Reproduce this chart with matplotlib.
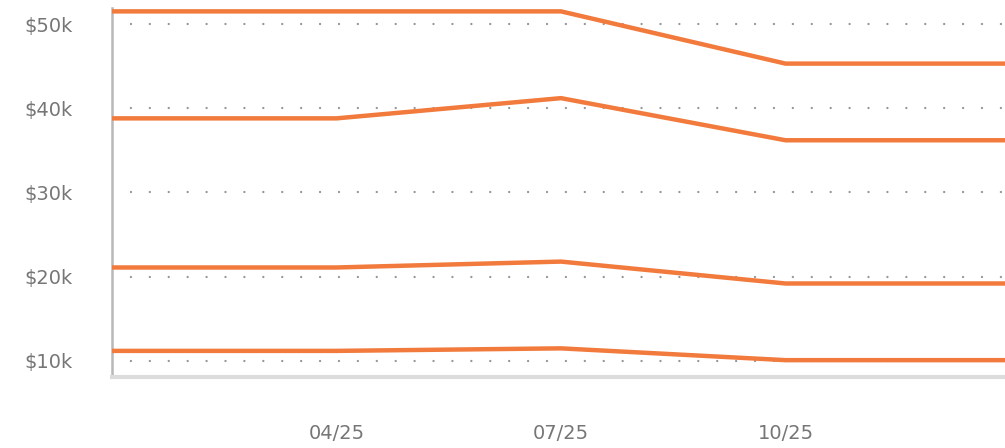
import matplotlib
matplotlib.use("Agg")
import matplotlib.pyplot as plt
from matplotlib.ticker import FuncFormatter

# quarters, 01/25 .. 01/26 (first and last have no label in the chart)
months = ['01/25', '04/25', '07/25', '10/25', '01/26']
shown_labels = ['04/25', '07/25', '10/25']

# values in thousands of dollars
line_a = [51.5, 51.5, 51.5, 45.3, 45.3]
line_b = [38.8, 38.8, 41.2, 36.2, 36.2]
line_c = [21.1, 21.1, 21.8, 19.2, 19.2]
line_d = [11.2, 11.2, 11.5, 10.1, 10.1]
y_ticks = [10, 20, 30, 40, 50]

plt.rcParams['font.family'] = ['DejaVu Sans']

fig = plt.figure(figsize=(10.05, 4.48), dpi=100)
ax = fig.add_axes([112 / 1005, 71 / 448, 1 - 112 / 1005, 369 / 448])

x = list(range(len(months)))
orange = '#F17A3C'
for s in [line_a, line_b, line_c, line_d]:
    ax.plot(x, s, color=orange, lw=3.2, solid_joinstyle='round', zorder=3)

ax.set_xlim(0, (1005 - 112) / 224.5)
ax.set_ylim(8.1, 51.9)

ax.set_yticks(y_ticks)
ax.yaxis.set_major_formatter(FuncFormatter(lambda v, p: '$%dk' % v))
ax.set_xticks([months.index(m) for m in shown_labels])
ax.set_xticklabels(shown_labels)

ax.tick_params(axis='y', length=0, pad=28, labelsize=14, labelcolor='#767676')
ax.tick_params(axis='x', length=0, pad=34, labelsize=14, labelcolor='#767676')

ax.grid(axis='y', color='#969696', linewidth=1.7, linestyle=(0, (0.01, 8)),
        dash_capstyle='round', zorder=1)
ax.grid(axis='x', visible=False)

for side in ['top', 'right']:
    ax.spines[side].set_visible(False)
ax.spines['left'].set_color('#b8b8b8')
ax.spines['left'].set_linewidth(1.8)
ax.spines['bottom'].set_color('#dcdcdc')
ax.spines['bottom'].set_linewidth(3)

fig.savefig('out.png', dpi=100)
